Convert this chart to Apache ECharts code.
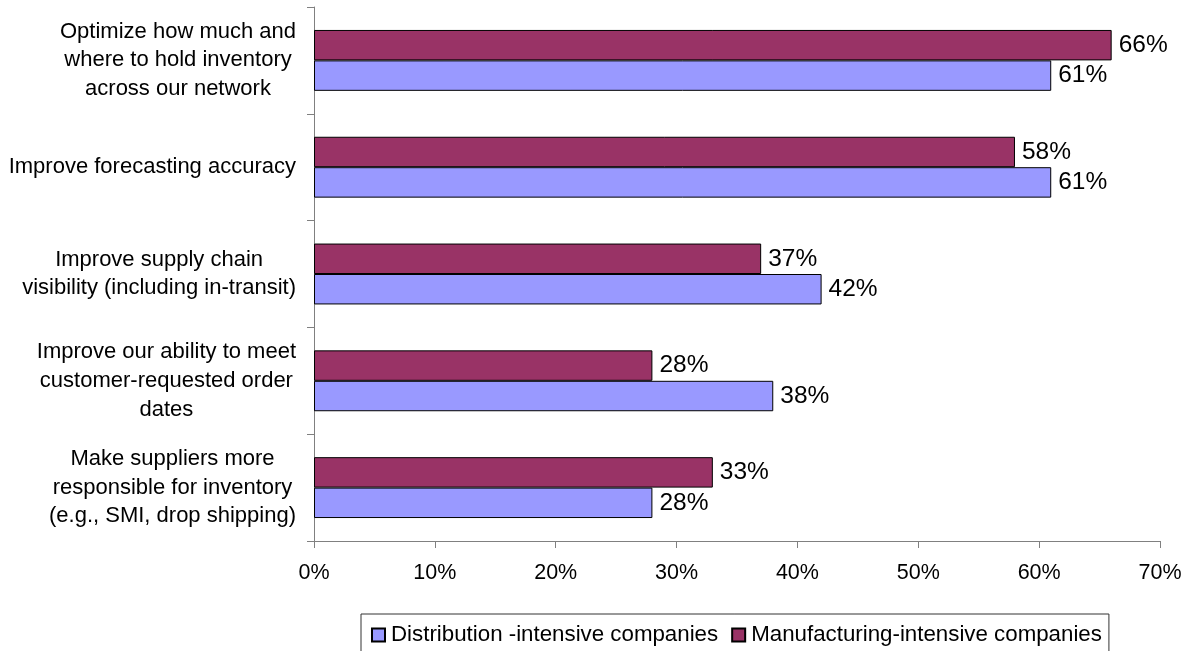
<!DOCTYPE html>
<html>
<head>
<meta charset="utf-8">
<script src="https://cdn.jsdelivr.net/npm/echarts@6/dist/echarts.min.js"></script>
<style>
  html, body { margin: 0; padding: 0; background: #fff; }
  #chart { width: 1197px; height: 651px; }
</style>
</head>
<body>
<div id="chart"></div>
<script>
// Supply chain priorities, share of respondents by company type
const categories = [
  'Optimize how much and\nwhere to hold inventory\nacross our network',
  'Improve forecasting accuracy',
  'Improve supply chain\nvisibility (including in-transit)',
  'Improve our ability to meet\ncustomer-requested order\ndates',
  'Make suppliers more\nresponsible for inventory\n(e.g., SMI, drop shipping)'
];
const manufacturing = [66, 58, 37, 28, 33];
const distribution = [61, 61, 42, 38, 28];
const seriesNames = ['Distribution -intensive companies', 'Manufacturing-intensive companies'];
const xTicks = { min: 0, max: 70, step: 10 };

const FONT = "'Liberation Sans', Arial, sans-serif";
const AXIS_GRAY = '#808080';

const chart = echarts.init(document.getElementById('chart'));

const valueLabel = {
  show: true,
  position: 'right',
  distance: 7,
  formatter: '{c}%',
  color: '#000',
  fontFamily: FONT,
  fontSize: 24.5
};

chart.setOption({
  animation: false,
  textStyle: { fontFamily: FONT },
  grid: { left: 314, right: 37, top: 7, bottom: 110, containLabel: false },
  legend: {
    data: seriesNames,
    icon: 'rect',
    left: 361,
    top: 614,
    orient: 'horizontal',
    padding: [10, 7, 14, 10],
    itemGap: 13,
    itemWidth: 13,
    itemHeight: 13,
    borderColor: '#333',
    borderWidth: 1,
    textStyle: { fontFamily: FONT, fontSize: 22.3, color: '#000', padding: [0, 0, 0, 1] }
  },
  xAxis: {
    type: 'value',
    min: xTicks.min,
    max: xTicks.max,
    interval: xTicks.step,
    axisLine: { show: true, lineStyle: { color: AXIS_GRAY, width: 1 } },
    axisTick: { show: true, length: 7, lineStyle: { color: AXIS_GRAY } },
    splitLine: { show: false },
    axisLabel: { formatter: '{value}%', color: '#000', fontFamily: FONT, fontSize: 21.5, margin: 21 }
  },
  yAxis: {
    type: 'category',
    inverse: true,
    data: categories,
    axisLine: { show: true, lineStyle: { color: AXIS_GRAY, width: 1 } },
    axisTick: { show: true, length: 7, alignWithLabel: false, lineStyle: { color: AXIS_GRAY } },
    axisLabel: {
      margin: 18,
      align: 'right',
      color: '#000',
      fontFamily: FONT,
      fontSize: 22,
      lineHeight: 28.7,
      formatter: function (v) {
        return v.split('\n').map(function (s) { return '{c|' + s + '}'; }).join('\n');
      },
      rich: {
        c: { align: 'center', fontFamily: FONT, fontSize: 22, lineHeight: 28.7, color: '#000' }
      }
    }
  },
  series: [
    {
      name: seriesNames[1],
      type: 'bar',
      data: manufacturing,
      barGap: '0%',
      barCategoryGap: '43%',
      itemStyle: { color: '#993366', borderColor: '#000', borderWidth: 1 },
      label: valueLabel
    },
    {
      name: seriesNames[0],
      type: 'bar',
      data: distribution,
      barGap: '0%',
      barCategoryGap: '43%',
      itemStyle: { color: '#9999FF', borderColor: '#000', borderWidth: 1 },
      label: valueLabel
    }
  ]
});
</script>
</body>
</html>
